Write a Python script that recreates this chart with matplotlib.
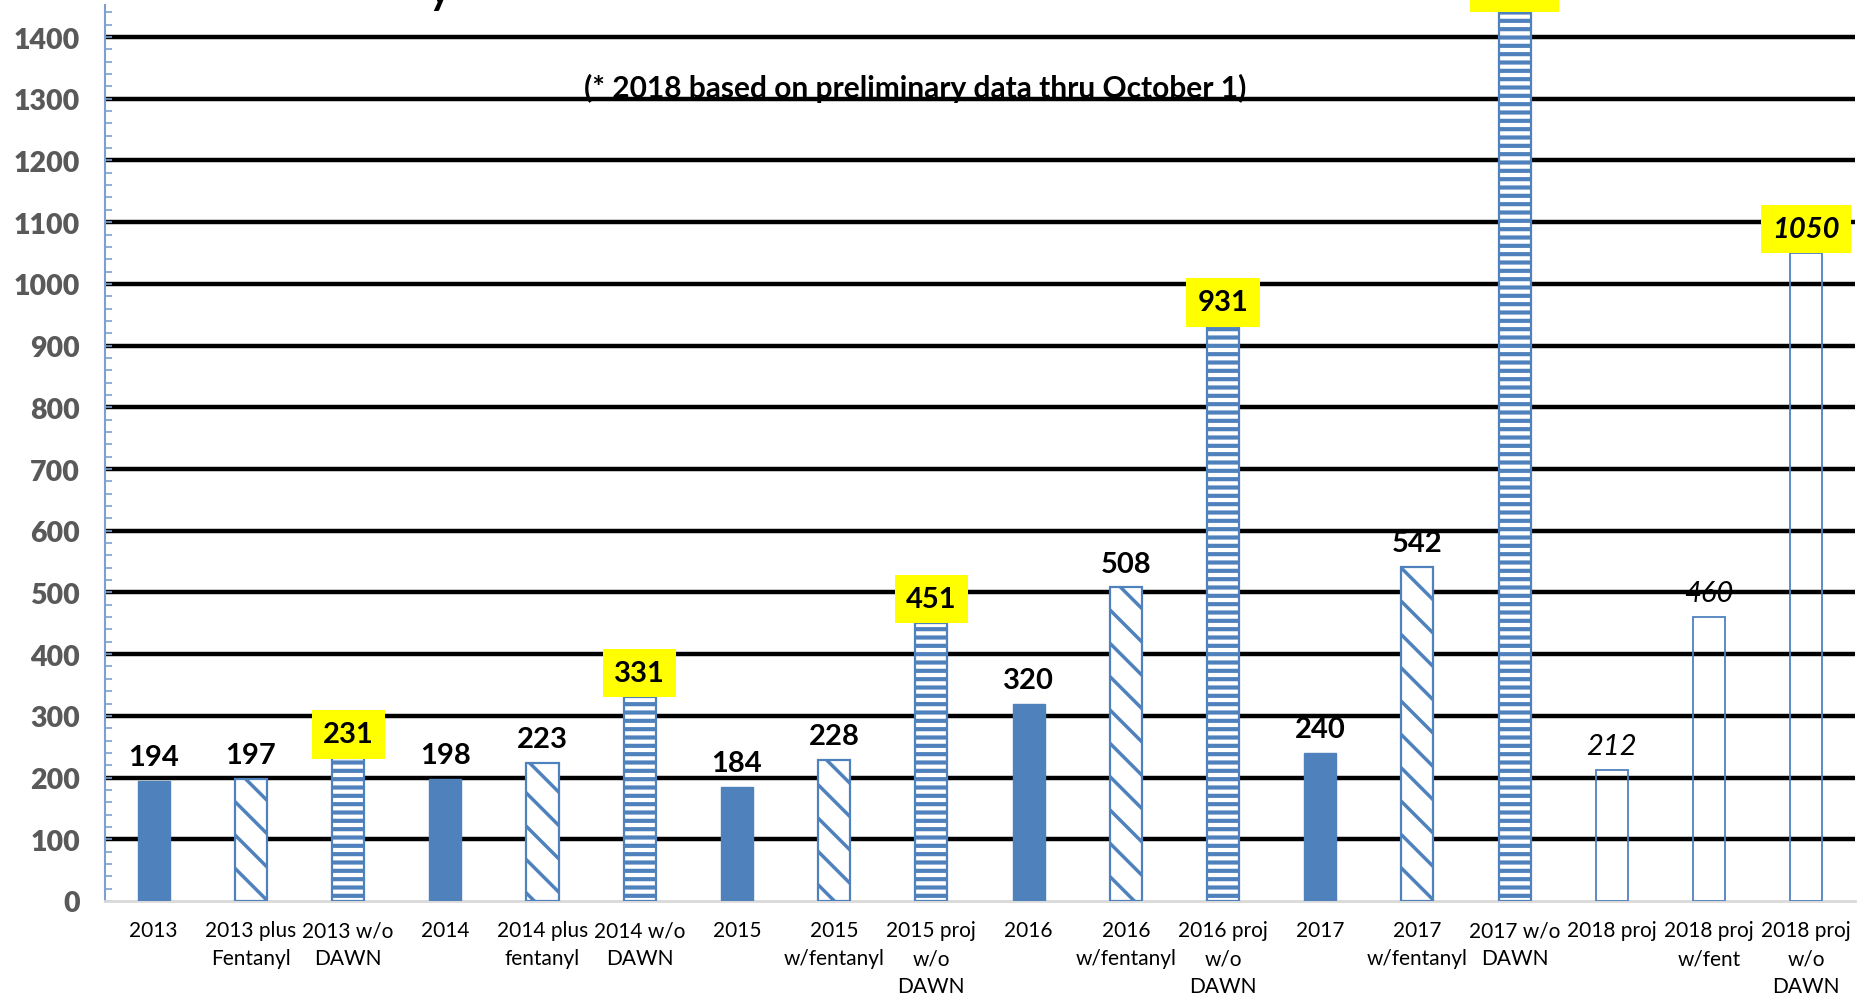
import matplotlib
matplotlib.use("Agg")
import matplotlib.pyplot as plt
from matplotlib.ticker import MultipleLocator

plt.rcParams['font.family'] = ['Lato', 'DejaVu Sans']

# data
labels = ["2013", "2013 plus\nFentanyl", "2013 w/o\nDAWN",
          "2014", "2014 plus\nfentanyl", "2014 w/o\nDAWN",
          "2015", "2015\nw/fentanyl", "2015 proj\nw/o\nDAWN",
          "2016", "2016\nw/fentanyl", "2016 proj\nw/o\nDAWN",
          "2017", "2017\nw/fentanyl", "2017 w/o\nDAWN",
          "2018 proj", "2018 proj\nw/fent", "2018 proj\nw/o\nDAWN"]
values = [194, 197, 231, 198, 223, 331, 184, 228, 451,
          320, 508, 931, 240, 542, 1440, 212, 460, 1050]
kinds = ["solid", "diag", "stripe"] * 5 + ["open"] * 3
highlight = [False, False, True] * 6
italic = [False] * 15 + [True] * 3
yticks = list(range(0, 1401, 100))
note = "(* 2018 based on preliminary data thru October 1)"

blue = "#4F81BD"

fig = plt.figure(figsize=(18.68, 9.95), dpi=100)
ax = fig.add_axes([0.0562, 0.0935, 0.9368, 0.9005])

# thick black gridlines behind the bars
for t in yticks[1:]:
    ax.axhline(t, color="black", linewidth=3.2, zorder=1)

for i, (v, k) in enumerate(zip(values, kinds)):
    if k == "solid":
        ax.bar(i, v, 0.33, color=blue, edgecolor=blue, linewidth=1, zorder=3)
    elif k == "diag":
        with plt.rc_context({"hatch.linewidth": 2.5}):
            ax.bar(i, v, 0.33, facecolor="white", edgecolor=blue,
                   hatch="\\", linewidth=1.6, zorder=3)
    elif k == "stripe":
        with plt.rc_context({"hatch.linewidth": 3.0}):
            ax.bar(i, v, 0.33, facecolor="white", edgecolor=blue,
                   hatch="--", linewidth=1.6, zorder=3)
    else:
        ax.bar(i, v, 0.33, facecolor="none", edgecolor=blue,
               linewidth=1.3, zorder=3)

    box = None
    if highlight[i]:
        box = dict(boxstyle="square,pad=0.38", facecolor="#FFFF00", edgecolor="none")
    weight = "bold"
    if italic[i] and not highlight[i]:
        weight = "normal"
    ax.annotate(str(v), (i, v), xytext=(0, 11.5), textcoords="offset points",
                ha="center", va="baseline", fontsize=21, fontweight=weight,
                style="italic" if italic[i] else "normal", bbox=box,
                annotation_clip=False, zorder=5)

ax.text(7.83, 1303, note, ha="center", va="baseline", fontsize=21.5,
        fontweight="bold", zorder=4)

ax.set_xlim(-0.5, 17.5)
ax.set_ylim(0, 1452)
ax.set_yticks(yticks)
ax.yaxis.set_minor_locator(MultipleLocator(20))
ax.tick_params(axis="y", which="both", direction="in", color="#7EA0D0",
               length=5, width=1.2, pad=18, labelcolor="#595959")
for lbl in ax.get_yticklabels():
    lbl.set_fontsize(20.5)
    lbl.set_fontweight("heavy")

ax.set_xticks(range(len(labels)))
ax.set_xticklabels(labels, fontsize=15, linespacing=1.5)
ax.tick_params(axis="x", length=0, pad=14)

ax.spines["top"].set_visible(False)
ax.spines["right"].set_visible(False)
ax.spines["left"].set_color("#7EA0D0")
ax.spines["left"].set_linewidth(1.5)
ax.spines["bottom"].set_color("#D9D9D9")
ax.spines["bottom"].set_linewidth(2)

# bottom of the title that is cut off at the top edge
fig.text(440 / 1868, 1 - 4 / 995, "y", fontsize=30, fontweight="bold",
         ha="center", va="baseline")

fig.savefig("out.png", dpi=100)
